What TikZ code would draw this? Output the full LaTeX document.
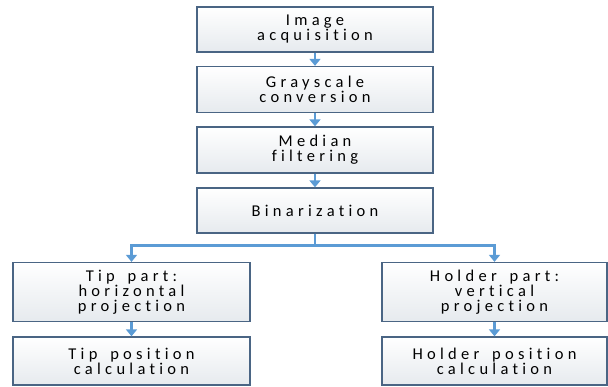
\documentclass[tikz,border=0pt]{standalone}
\usepackage{fontspec}
\setmainfont[LetterSpace=26,Ligatures={NoCommon},WordSpace=1.6]{Carlito}
\usetikzlibrary{arrows.meta,shadings}
\definecolor{boxline}{HTML}{4A6584}
\definecolor{arrowblue}{HTML}{5B9BD5}
\definecolor{fillgray}{HTML}{E6EAEE}
\tikzset{
  stepbox/.style={draw=boxline, line width=1.3pt, top color=white, bottom color=fillgray,
    minimum width=236pt, align=center, inner sep=0pt,
    font=\fontsize{16.5}{15}\selectfont},
  flow/.style={draw=arrowblue, line width=2.6pt, -{Triangle[width=11pt,length=7pt]}},
  flowline/.style={draw=arrowblue, line width=2.6pt},
}
\begin{document}
\begin{tikzpicture}[x=1pt,y=-1pt]
\useasboundingbox (0,0) rectangle (608,387);
\node[stepbox, minimum height=45pt] (a) at (315,29.5) {Image\\acquisition};
\node[stepbox, minimum height=46pt] (b) at (315,89.5) {Grayscale\\conversion};
\node[stepbox, minimum height=46pt] (c) at (315,150) {Median\\filtering};
\node[stepbox, minimum height=45pt] (d) at (315,210.5) {Binarization};
\node[stepbox, minimum width=237pt, minimum height=59pt] (e) at (131.5,292) {Tip part:\\horizontal\\projection};
\node[stepbox, minimum width=237pt, minimum height=48pt] (f) at (131.5,361) {Tip position\\calculation};
\node[stepbox, minimum width=225pt, minimum height=59pt] (g) at (494.5,292) {Holder part:\\vertical\\projection};
\node[stepbox, minimum width=225pt, minimum height=48pt] (h) at (494.5,361) {Holder position\\calculation};
\coordinate (j) at (315,245.5);
\draw[flow] (a) -- (b);
\draw[flow] (b) -- (c);
\draw[flow] (c) -- (d);
\draw[flowline] (d) -- (j);
\draw[flow] (j) -| (e);
\draw[flow] (j) -| (g);
\draw[flow] (e) -- (f);
\draw[flow] (g) -- (h);
\end{tikzpicture}
\end{document}
